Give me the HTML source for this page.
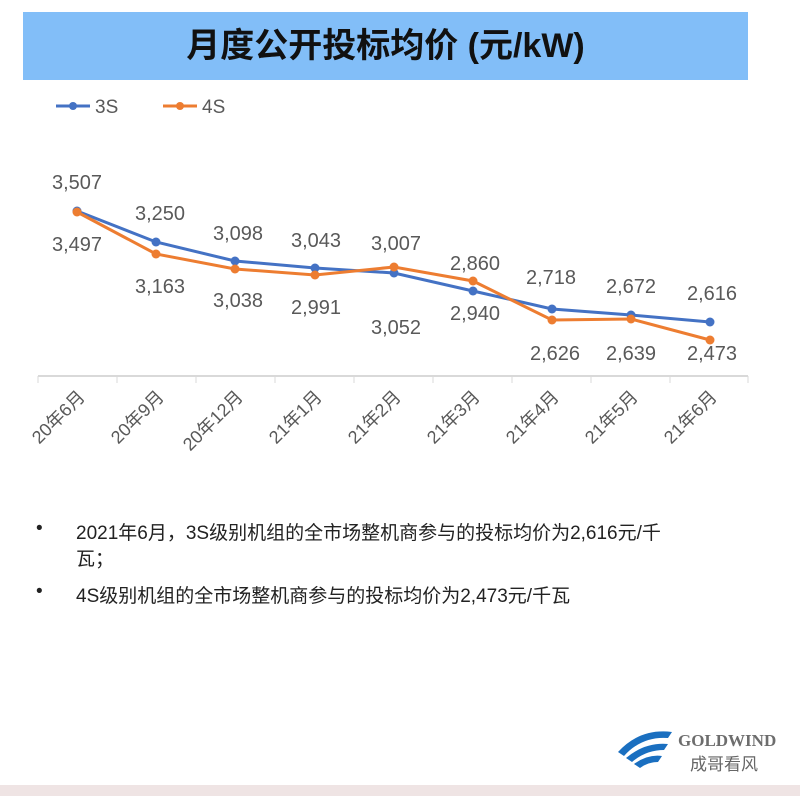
<!DOCTYPE html>
<html><head><meta charset="utf-8"><style>
body{margin:0;width:800px;height:796px;background:#fff;position:relative;overflow:hidden;font-family:"Liberation Sans","Noto Sans CJK SC",sans-serif}
.title{position:absolute;left:23px;top:12px;width:725px;height:68px;background:#82bef8;text-align:center;line-height:68px;font-size:34px;font-weight:bold;color:#111}
.b{position:absolute;left:36px;font-size:19px;color:#222}
.b i{position:absolute;left:0;top:0;font-style:normal}
.b span{position:absolute;left:40px;white-space:nowrap}
</style></head><body>
<div class="title">月度公开投标均价 (元/kW)</div>
<svg width="800" height="796" style="position:absolute;left:0;top:0" font-family="Liberation Sans, Noto Sans CJK SC, sans-serif">
<g stroke-width="3"><line x1="56" y1="106" x2="90" y2="106" stroke="#4472c4"/><circle cx="73" cy="106" r="4" fill="#4472c4"/>
<line x1="163" y1="106" x2="197" y2="106" stroke="#ed7d31"/><circle cx="180" cy="106" r="4" fill="#ed7d31"/></g>
<text x="95" y="113" font-size="19" fill="#595959">3S</text><text x="202" y="113" font-size="19" fill="#595959">4S</text>
<line x1="38" y1="376" x2="748" y2="376" stroke="#d9d9d9" stroke-width="2"/>
<g stroke="#d9d9d9" stroke-width="1">
<line x1="38" y1="376" x2="38" y2="383"/><line x1="117" y1="376" x2="117" y2="383"/><line x1="196" y1="376" x2="196" y2="383"/><line x1="275" y1="376" x2="275" y2="383"/><line x1="354" y1="376" x2="354" y2="383"/><line x1="433" y1="376" x2="433" y2="383"/><line x1="512" y1="376" x2="512" y2="383"/><line x1="591" y1="376" x2="591" y2="383"/><line x1="670" y1="376" x2="670" y2="383"/><line x1="748" y1="376" x2="748" y2="383"/></g>
<polyline fill="none" stroke="#4472c4" stroke-width="3" points="77,211 156,242 235,261 315,268 394,273 473,291 552,309 631,315 710,322"/>
<polyline fill="none" stroke="#ed7d31" stroke-width="3" points="77,212 156,254 235,269 315,275 394,267 473,281 552,320 631,319 710,340"/>
<g fill="#4472c4"><circle cx="77" cy="211" r="4.5"/><circle cx="156" cy="242" r="4.5"/><circle cx="235" cy="261" r="4.5"/><circle cx="315" cy="268" r="4.5"/><circle cx="394" cy="273" r="4.5"/><circle cx="473" cy="291" r="4.5"/><circle cx="552" cy="309" r="4.5"/><circle cx="631" cy="315" r="4.5"/><circle cx="710" cy="322" r="4.5"/></g>
<g fill="#ed7d31"><circle cx="77" cy="212" r="4.5"/><circle cx="156" cy="254" r="4.5"/><circle cx="235" cy="269" r="4.5"/><circle cx="315" cy="275" r="4.5"/><circle cx="394" cy="267" r="4.5"/><circle cx="473" cy="281" r="4.5"/><circle cx="552" cy="320" r="4.5"/><circle cx="631" cy="319" r="4.5"/><circle cx="710" cy="340" r="4.5"/></g>
<g font-size="20" fill="#595959" text-anchor="middle">
<text x="77" y="189">3,507</text><text x="160" y="220">3,250</text><text x="238" y="240">3,098</text><text x="316" y="247">3,043</text><text x="396" y="250">3,007</text><text x="475" y="270">2,860</text><text x="551" y="284">2,718</text><text x="631" y="293">2,672</text><text x="712" y="300">2,616</text>
<text x="77" y="251">3,497</text><text x="160" y="293">3,163</text><text x="238" y="307">3,038</text><text x="316" y="314">2,991</text><text x="396" y="334">3,052</text><text x="475" y="320">2,940</text><text x="555" y="360">2,626</text><text x="631" y="360">2,639</text><text x="712" y="360">2,473</text>
</g>
<g font-size="18" fill="#595959" text-anchor="end">
<text transform="translate(86,398) rotate(-45)">20年6月</text>
<text transform="translate(165,398) rotate(-45)">20年9月</text>
<text transform="translate(244,398) rotate(-45)">20年12月</text>
<text transform="translate(323,398) rotate(-45)">21年1月</text>
<text transform="translate(402,398) rotate(-45)">21年2月</text>
<text transform="translate(481,398) rotate(-45)">21年3月</text>
<text transform="translate(560,398) rotate(-45)">21年4月</text>
<text transform="translate(639,398) rotate(-45)">21年5月</text>
<text transform="translate(718,398) rotate(-45)">21年6月</text>
</g>
<path d="M618 752 Q640 728 672 732 L668 738 Q642 736 624 756Z M626 758 Q645 742 668 744 L664 750 Q646 750 632 762Z M634 764 Q648 754 662 756 L658 762 Q648 762 640 768Z" fill="#1a6fc0"/>
<text x="678" y="746" font-size="17" font-weight="bold" fill="#6d6d6d" font-family="Liberation Serif, serif">GOLDWIND</text>
<text x="690" y="770" font-size="17" fill="#666">成哥看风</text>
<rect x="0" y="785" width="800" height="11" fill="#efe4e4"/>
</svg>
<div class="b" style="top:518px"><i>•</i><span>2021年6月，3S级别机组的全市场整机商参与的投标均价为2,616元/千</span></div>
<div class="b" style="top:544px"><span>瓦；</span></div>
<div class="b" style="top:581px"><i>•</i><span>4S级别机组的全市场整机商参与的投标均价为2,473元/千瓦</span></div>
</body></html>
